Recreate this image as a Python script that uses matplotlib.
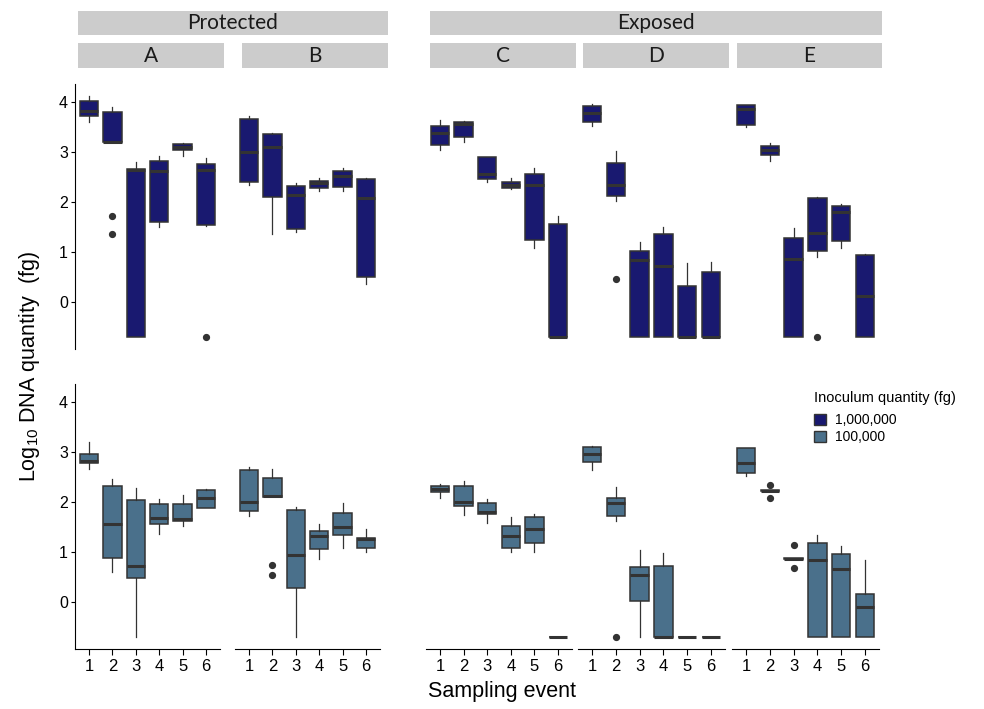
import matplotlib.pyplot as plt
from matplotlib.patches import Patch, Rectangle

plt.rcParams['font.family'] = ['Liberation Sans', 'DejaVu Sans']
plt.rcParams['mathtext.fontset'] = 'custom'
plt.rcParams['mathtext.rm'] = 'Liberation Sans'

sites = ['A', 'B', 'C', 'D', 'E']
events = [1, 2, 3, 4, 5, 6]
groups = ['Protected', 'Exposed']
doses = ['1,000,000', '100,000']

# each row: whisker low, Q1, median, Q3, whisker high (log10 fg)
high_A = [[3.61, 3.72, 3.83, 4.03, 4.12], [3.2, 3.2, 3.2, 3.81, 3.91], [-0.69, -0.69, 2.64, 2.67, 2.81],
          [1.51, 1.61, 2.63, 2.83, 2.93], [2.92, 3.04, 3.11, 3.17, 3.19], [1.53, 1.55, 2.64, 2.76, 2.89]]
high_B = [[2.35, 2.41, 3.01, 3.67, 3.72], [1.36, 2.11, 3.11, 3.37, 3.39], [1.41, 1.46, 2.15, 2.33, 2.39],
          [2.22, 2.28, 2.38, 2.43, 2.49], [2.23, 2.31, 2.52, 2.62, 2.69], [0.37, 0.51, 2.09, 2.46, 2.49]]
high_C = [[3.04, 3.15, 3.38, 3.53, 3.64], [3.21, 3.3, 3.56, 3.6, 3.63], [2.41, 2.47, 2.57, 2.9, 2.91],
          [2.26, 2.29, 2.35, 2.4, 2.49], [1.08, 1.24, 2.35, 2.57, 2.69], [-0.7, -0.7, -0.7, 1.57, 1.73]]
high_D = [[3.52, 3.61, 3.79, 3.93, 3.96], [2.03, 2.13, 2.35, 2.79, 3.03], [-0.7, -0.7, 0.85, 1.03, 1.21],
          [-0.7, -0.7, 0.72, 1.37, 1.5], [-0.7, -0.7, -0.7, 0.32, 0.79], [-0.7, -0.7, -0.7, 0.61, 0.8]]
high_E = [[3.51, 3.55, 3.87, 3.95, 3.95], [2.83, 2.94, 3.04, 3.13, 3.19], [-0.7, -0.7, 0.86, 1.28, 1.49],
          [0.91, 1.03, 1.38, 2.08, 2.11], [1.08, 1.23, 1.81, 1.92, 1.97], [-0.7, -0.7, 0.13, 0.95, 0.97]]

low_A = [[2.67, 2.78, 2.83, 2.97, 3.21], [0.61, 0.89, 1.57, 2.33, 2.47], [-0.69, 0.49, 0.73, 2.05, 2.29],
         [1.37, 1.57, 1.69, 1.97, 2.07], [1.52, 1.63, 1.66, 1.97, 2.14], [1.88, 1.89, 2.09, 2.24, 2.27]]
low_B = [[1.73, 1.82, 2.01, 2.64, 2.71], [2.1, 2.1, 2.12, 2.49, 2.67], [-0.69, 0.29, 0.95, 1.85, 1.91],
         [0.87, 1.06, 1.32, 1.42, 1.56], [1.09, 1.35, 1.51, 1.79, 1.99], [1.0, 1.09, 1.27, 1.29, 1.46]]
low_C = [[2.08, 2.21, 2.27, 2.33, 2.36], [1.75, 1.93, 2.0, 2.33, 2.43], [1.58, 1.77, 1.81, 1.98, 2.07],
         [1.01, 1.09, 1.33, 1.53, 1.7], [1.0, 1.19, 1.47, 1.71, 1.77], [-0.7, -0.7, -0.7, -0.7, -0.7]]
low_D = [[2.65, 2.81, 2.96, 3.11, 3.12], [1.63, 1.72, 1.99, 2.09, 2.31], [-0.7, 0.03, 0.55, 0.71, 1.05],
         [-0.7, -0.7, -0.7, 0.73, 0.99], [-0.7, -0.7, -0.7, -0.7, -0.7], [-0.7, -0.7, -0.7, -0.7, -0.7]]
low_E = [[2.53, 2.58, 2.79, 3.08, 3.09], [2.22, 2.22, 2.23, 2.24, 2.24], [0.86, 0.86, 0.87, 0.88, 0.88],
         [-0.7, -0.7, 0.84, 1.18, 1.34], [-0.7, -0.7, 0.66, 0.96, 1.13], [-0.7, -0.7, -0.1, 0.16, 0.84]]

# outliers: (site, event) -> values
high_out = {('A', 2): [1.73, 1.37], ('A', 6): [-0.7], ('D', 2): [0.46], ('E', 4): [-0.7]}
low_out = {('B', 2): [0.75, 0.55], ('D', 2): [-0.7], ('E', 2): [2.34, 2.08], ('E', 3): [1.15, 0.68]}

high = dict(zip(sites, [high_A, high_B, high_C, high_D, high_E]))
low = dict(zip(sites, [low_A, low_B, low_C, low_D, low_E]))

colors = ['#191970', '#4A708B']
edge = '#333333'
W, H = 984, 709

# panel pixel positions (left, right)
panel_x = {'A': (75, 220), 'B': (235, 380), 'C': (426, 572), 'D': (578, 725), 'E': (732, 879)}
row_y = [(84, 349), (384, 649)]
strip_x = {'A': (78, 224), 'B': (242, 388), 'C': (430, 576), 'D': (583, 729), 'E': (737, 882)}
group_x = {'Protected': (78, 388), 'Exposed': (430, 882)}

fig = plt.figure(figsize=(W / 100, H / 100), dpi=100)


def px_axes(x0, x1, y0, y1):
    return fig.add_axes([x0 / W, 1 - y1 / H, (x1 - x0) / W, (y1 - y0) / H])


def make_stats(rows, outs, site):
    out = []
    for ev, r in zip(events, rows):
        out.append(dict(whislo=r[0], q1=r[1], med=r[2], q3=r[3], whishi=r[4],
                        fliers=outs.get((site, ev), [])))
    return out


for ri, (data, outs) in enumerate([(high, high_out), (low, low_out)]):
    for site in sites:
        x0, x1 = panel_x[site]
        ax = px_axes(x0, x1, row_y[ri][0], row_y[ri][1])
        ax.bxp(make_stats(data[site], outs, site), positions=events, widths=0.78,
               patch_artist=True, manage_ticks=False,
               boxprops=dict(facecolor=colors[ri], edgecolor=edge, linewidth=1.1),
               medianprops=dict(color=edge, linewidth=2.2, solid_capstyle='butt'),
               whiskerprops=dict(color=edge, linewidth=0.9),
               capprops=dict(linewidth=0),
               flierprops=dict(marker='o', markersize=4.2, markerfacecolor=edge,
                               markeredgecolor=edge))
        ax.set_xlim(0.4, 6.6)
        ax.set_ylim(-0.94, 4.36)
        for s in ['top', 'right']:
            ax.spines[s].set_visible(False)
        ax.spines['left'].set_visible(site == 'A')
        ax.spines['bottom'].set_visible(ri == 1)
        if site == 'A':
            ax.set_yticks([0, 1, 2, 3, 4])
            ax.tick_params(axis='y', labelsize=11.5, length=3, pad=2)
        else:
            ax.set_yticks([])
        if ri == 1:
            ax.set_xticks(events)
            ax.tick_params(axis='x', labelsize=12, length=4, pad=3)
        else:
            ax.set_xticks([])
        ax.patch.set_alpha(0)

# strips
strip_col = '#CCCCCC'
strip_font = ['Lato', 'DejaVu Sans']
for name, (x0, x1) in group_x.items():
    fig.patches.append(Rectangle((x0 / W, 1 - 35 / H), (x1 - x0) / W, 24 / H,
                                 transform=fig.transFigure, facecolor=strip_col, edgecolor='none'))
    fig.text((x0 + x1) / 2 / W, 1 - 23 / H, name, ha='center', va='center',
             fontsize=15, family=strip_font, color='#1A1A1A')
for site, (x0, x1) in strip_x.items():
    fig.patches.append(Rectangle((x0 / W, 1 - 68 / H), (x1 - x0) / W, 25 / H,
                                 transform=fig.transFigure, facecolor=strip_col, edgecolor='none'))
    fig.text((x0 + x1) / 2 / W, 1 - 56 / H, site, ha='center', va='center',
             fontsize=15, family=strip_font, color='#1A1A1A')

fig.text(30 / W, 1 - 367 / H, r'Log$_{10}$ DNA quantity  (fg)', rotation=90,
         ha='center', va='center', fontsize=15.5)
fig.text(502 / W, 1 - 692 / H, 'Sampling event', ha='center', va='center', fontsize=15.5)

handles = [Patch(facecolor=c, edgecolor=edge, linewidth=1) for c in colors]
leg = fig.legend(handles, doses, title='Inoculum quantity (fg)', loc='upper left',
                 bbox_to_anchor=(807 / W, 1 - 384 / H), frameon=False, fontsize=10,
                 title_fontsize=10.5, handlelength=0.9, handleheight=0.8, handletextpad=0.6,
                 labelspacing=0.2, borderpad=0)
leg._legend_box.align = 'left'
leg._legend_box.sep = 6

fig.savefig('out.png', dpi=100)
